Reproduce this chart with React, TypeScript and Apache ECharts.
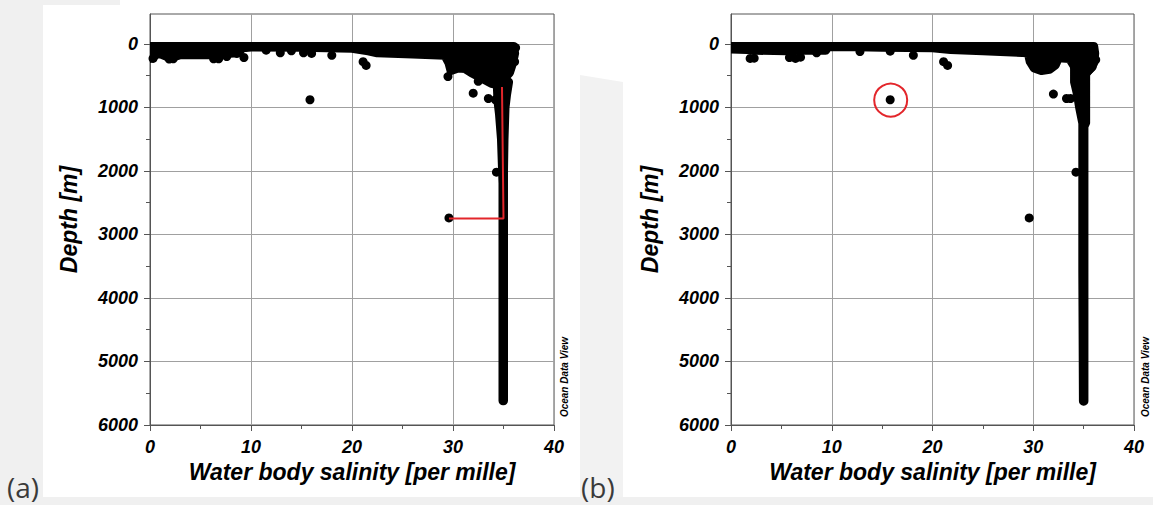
import React, { useEffect, useRef } from "react";
import * as echarts from "echarts";

// ---- axis ticks ----
const salinityTicks = [0, 10, 20, 30, 40];
const depthTicks = [0, 1000, 2000, 3000, 4000, 5000, 6000];

// ---- panel (a): [salinity, depth] ----
// dense surface band + shelf cluster (outline through dot centres)
const bandA: number[][] = [
  [0, 40], [36.0, 40], [36.1, 150], [35.9, 300], [35.6, 450], [35.0, 560],
  [34.4, 640], [33.8, 620], [33.2, 570], [32.5, 510], [31.8, 450], [31.2, 390],
  [30.5, 380], [29.8, 420], [29.6, 300], [29.2, 180], [26.0, 160], [22.5, 140],
  [21.6, 110], [20.0, 70], [15.0, 55], [10.0, 50], [9.2, 60], [8.7, 140],
  [7.5, 150], [6.8, 190], [6.0, 170], [3.0, 170], [2.6, 190], [2.0, 220],
  [1.4, 180], [0.8, 140], [0.3, 210], [0, 230],
];
// deep-water column
const columnA: number[][] = [
  [34.4, 700], [34.85, 620], [35.5, 600], [35.3, 800], [35.15, 1000],
  [35.05, 1500], [35.0, 2000], [35.0, 5620], [34.95, 5620], [34.95, 2200],
  [34.8, 1500], [34.6, 1100], [34.45, 900],
];
// individual stations / edge points
const dotsA: number[][] = [
  [0.3, 230], [1.9, 240], [2.3, 235], [6.3, 235], [6.8, 235], [7.6, 200],
  [8.6, 150], [9.3, 215], [11.5, 100], [12.9, 140], [14.0, 110], [15.2, 140],
  [16.0, 150], [18.0, 180], [21.1, 280], [21.4, 340], [15.84, 880],
  [29.5, 515], [32.0, 776], [32.5, 590], [33.5, 860], [34.2, 880],
  [34.3, 2020], [29.6, 2740], [36.1, 280], [36.2, 60],
];
// highlighted outlier connection
const flagLineA: number[][] = [[29.6, 2750], [35.0, 2750], [34.85, 680]];

// ---- panel (b): [salinity, depth] ----
const bandB: number[][] = [
  [0, 40], [36.0, 40], [36.1, 150], [36.0, 300], [35.8, 360], [35.3, 450],
  [34.5, 420], [34.1, 360], [33.6, 230], [32.5, 220], [32.2, 330], [31.6, 400],
  [30.8, 420], [30.1, 380], [29.7, 280], [29.5, 140], [25.0, 110], [21.8, 90],
  [20.0, 60], [15.0, 55], [12.5, 45], [10.0, 40], [9.6, 45], [9.4, 100],
  [7.0, 100], [5.5, 110], [2.4, 100], [1.6, 90], [0, 80],
];
const columnB: number[][] = [
  [34.1, 360], [35.85, 360], [35.2, 460], [35.2, 1240], [35.03, 1300],
  [35.03, 5625], [34.98, 5625], [34.92, 3600], [34.92, 1250], [34.6, 1000],
  [34.4, 800], [34.1, 600],
];
const dotsB: number[][] = [
  [1.9, 230], [2.3, 225], [5.8, 215], [6.4, 230], [6.9, 210], [8.5, 140],
  [12.8, 120], [15.8, 115], [18.1, 180], [21.1, 280], [21.5, 340],
  [15.8, 880], [32.0, 790], [33.3, 860], [33.7, 860], [34.24, 2020],
  [29.6, 2740], [36.2, 250],
];
const circledB: number[][] = [[15.85, 885]];

const FONT = '"Liberation Sans", Arial, sans-serif';

function polygonSeries(idx: number, verts: number[][]) {
  return {
    type: "custom",
    xAxisIndex: idx,
    yAxisIndex: idx,
    clip: true,
    z: 3,
    data: verts,
    encode: { x: 0, y: 1 },
    renderItem: (params: any, api: any) => {
      if (params.dataIndex !== 0) return null;
      const pts = verts.map((v) => api.coord(v));
      return {
        type: "polygon",
        shape: { points: pts },
        style: { fill: "#000", stroke: "#000", lineWidth: 9, lineJoin: "round" },
      };
    },
  };
}

function dotSeries(idx: number, data: number[][]) {
  return {
    type: "scatter",
    xAxisIndex: idx,
    yAxisIndex: idx,
    clip: true,
    z: 3,
    symbol: "circle",
    symbolSize: 9,
    itemStyle: { color: "#000", opacity: 1 },
    data,
  };
}

function xAxisCfg(idx: number) {
  return {
    type: "value",
    gridIndex: idx,
    min: 0,
    max: 40,
    interval: 10,
    name: "Water body salinity [per mille]",
    nameLocation: "middle",
    nameGap: 30,
    nameTextStyle: { fontFamily: FONT, fontSize: 23, fontWeight: "bold", fontStyle: "italic", color: "#000" },
    axisLine: { show: true, onZero: false, lineStyle: { color: "#555", width: 1 } },
    axisTick: { show: true, length: 6, customValues: salinityTicks, lineStyle: { color: "#555" } },
    minorTick: { show: true, splitNumber: 2, length: 4, lineStyle: { color: "#555" } },
    splitLine: { show: true, lineStyle: { color: "#a0a0a0", width: 1 } },
    axisLabel: {
      customValues: salinityTicks,
      formatter: (v: number) => String(v),
      margin: 13,
      fontFamily: FONT, fontSize: 18, fontWeight: "bold", fontStyle: "italic", color: "#000",
    },
  };
}

function yAxisCfg(idx: number) {
  return {
    type: "value",
    gridIndex: idx,
    inverse: true,
    min: -470,
    max: 6000,
    name: "Depth [m]",
    nameLocation: "middle",
    nameGap: 70,
    nameRotate: 90,
    nameTextStyle: { fontFamily: FONT, fontSize: 23, fontWeight: "bold", fontStyle: "italic", color: "#000" },
    axisLine: { show: true, onZero: false, lineStyle: { color: "#555", width: 1 } },
    axisTick: { show: true, length: 6, customValues: depthTicks, lineStyle: { color: "#555" } },
    minorTick: { show: true, splitNumber: 2, length: 4, lineStyle: { color: "#555" } },
    splitLine: { show: true, lineStyle: { color: "#a0a0a0", width: 1 } },
    axisLabel: {
      customValues: depthTicks,
      formatter: (v: number) => String(v),
      margin: 12,
      fontFamily: FONT, fontSize: 18, fontWeight: "bold", fontStyle: "italic", color: "#000",
    },
  };
}

export default function App() {
  const ref = useRef<HTMLDivElement>(null);
  useEffect(() => {
    if (!ref.current) return;
    const chart = echarts.init(ref.current, null, { renderer: "svg" });
    chart.setOption({
      animation: false,
      backgroundColor: "#f0f0f0",
      graphic: [
        { type: "rect", z: -100, shape: { x: 43, y: 5, width: 1110, height: 492 }, style: { fill: "#fff" } },
        { type: "rect", z: -100, shape: { x: 120, y: 0, width: 1033, height: 6 }, style: { fill: "#fff" } },
        {
          type: "polygon", z: -99,
          shape: { points: [[580, 75], [623, 82], [623, 497], [580, 497]] },
          style: { fill: "#f2f2f2" },
        },
        {
          type: "text", x: 564, y: 377, rotation: Math.PI / 2,
          style: { text: "Ocean Data View", font: 'italic bold 10px "Liberation Sans"', fill: "#000", align: "center", verticalAlign: "middle" },
        },
        {
          type: "text", x: 1145, y: 377, rotation: Math.PI / 2,
          style: { text: "Ocean Data View", font: 'italic bold 10px "Liberation Sans"', fill: "#000", align: "center", verticalAlign: "middle" },
        },
        {
          type: "text", x: 7, y: 487,
          style: { text: "(a)", font: '28px "Open Sans"', fill: "#3a3a3a", align: "left", verticalAlign: "middle" },
        },
        {
          type: "text", x: 581, y: 487,
          style: { text: "(b)", font: '28px "Open Sans"', fill: "#3a3a3a", align: "left", verticalAlign: "middle" },
        },
      ],
      grid: [
        { left: 150, top: 14, width: 404, height: 411, show: true, borderColor: "#555", borderWidth: 1, backgroundColor: "transparent" },
        { left: 731, top: 14, width: 403, height: 411, show: true, borderColor: "#555", borderWidth: 1, backgroundColor: "transparent" },
      ],
      xAxis: [xAxisCfg(0), xAxisCfg(1)],
      yAxis: [yAxisCfg(0), yAxisCfg(1)],
      series: [
        polygonSeries(0, bandA),
        polygonSeries(0, columnA),
        dotSeries(0, dotsA),
        {
          type: "line",
          xAxisIndex: 0,
          yAxisIndex: 0,
          z: 5,
          data: flagLineA,
          symbol: "none",
          lineStyle: { color: "#e3262b", width: 2 },
        },
        polygonSeries(1, bandB),
        polygonSeries(1, columnB),
        dotSeries(1, dotsB),
        {
          type: "scatter",
          xAxisIndex: 1,
          yAxisIndex: 1,
          z: 5,
          symbol: "circle",
          symbolSize: 33,
          itemStyle: { color: "rgba(0,0,0,0)", borderColor: "#e3262b", borderWidth: 2, opacity: 1 },
          data: circledB,
        },
      ],
    });
    return () => chart.dispose();
  }, []);
  return (
    <div
      ref={ref}
      style={{ position: "absolute", left: 0, top: 0, width: 1153, height: 505 }}
    />
  );
}
